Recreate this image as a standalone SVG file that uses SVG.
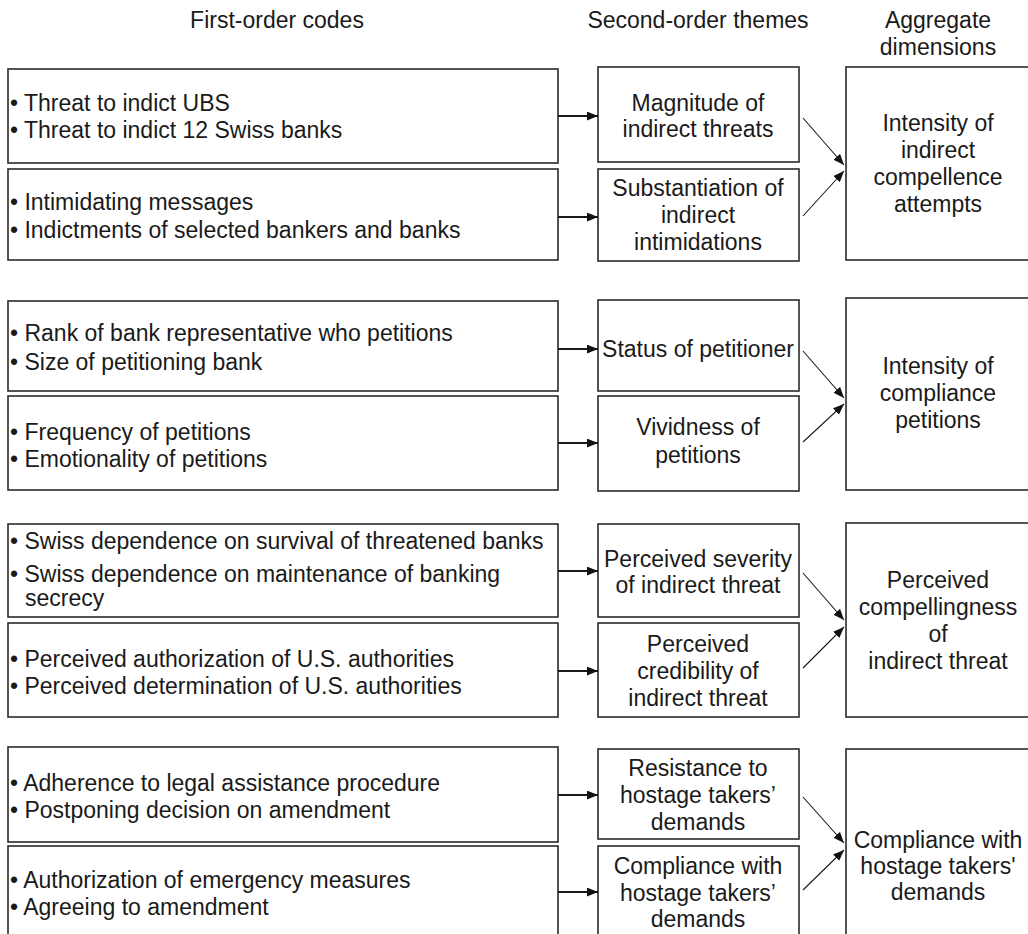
<svg xmlns="http://www.w3.org/2000/svg" width="1028" height="934" viewBox="0 0 1028 934">
<defs>
<marker id="ah" viewBox="0 0 10 8" refX="10" refY="4" markerWidth="11" markerHeight="9" markerUnits="userSpaceOnUse" orient="auto">
<path d="M0,0 L10,4 L0,8 Z" fill="#111"/>
</marker>
<style>
.box{fill:#fff;stroke:#2a2a2a;stroke-width:1.6}
text{font-family:"Liberation Sans",Arial,sans-serif;font-size:23px;fill:#1a1a1a}
.c{text-anchor:middle}
.h{stroke:#1a1a1a;stroke-width:1.8;fill:none}
.d{stroke:#1a1a1a;stroke-width:1.1;fill:none}
</style>
</defs>
<rect width="1028" height="934" fill="#fff"/>
<g id="headers">
<text class="c" x="277" y="28">First-order codes</text>
<text class="c" x="698" y="28">Second-order themes</text>
<text class="c" x="938" y="28">Aggregate</text>
<text class="c" x="938" y="55">dimensions</text>
</g>

<!-- Group 1 -->
<g id="g1-code1"><rect class="box" x="8" y="69" width="550" height="94"/>
<text x="10" y="111">• Threat to indict UBS</text>
<text x="10" y="138">• Threat to indict 12 Swiss banks</text></g>
<g id="g1-code2"><rect class="box" x="8" y="169" width="550" height="91"/>
<text x="10" y="210">• Intimidating messages</text>
<text x="10" y="238">• Indictments of selected bankers and banks</text></g>
<g id="g1-theme1"><rect class="box" x="598" y="67" width="201" height="95"/>
<text class="c" x="698" y="111">Magnitude of</text>
<text class="c" x="698" y="137">indirect threats</text></g>
<g id="g1-theme2"><rect class="box" x="598" y="169" width="201" height="92"/>
<text class="c" x="698" y="196">Substantiation of</text>
<text class="c" x="698" y="223">indirect</text>
<text class="c" x="698" y="250">intimidations</text></g>
<g id="g1-dim"><rect class="box" x="846" y="67" width="200" height="193"/>
<text class="c" x="938" y="131">Intensity of</text>
<text class="c" x="938" y="158">indirect</text>
<text class="c" x="938" y="185">compellence</text>
<text class="c" x="938" y="212">attempts</text></g>

<!-- Group 2 -->
<g id="g2-code1"><rect class="box" x="8" y="301" width="550" height="90"/>
<text x="10" y="341">• Rank of bank representative who petitions</text>
<text x="10" y="370">• Size of petitioning bank</text></g>
<g id="g2-code2"><rect class="box" x="8" y="396" width="550" height="94"/>
<text x="10" y="440">• Frequency of petitions</text>
<text x="10" y="467">• Emotionality of petitions</text></g>
<g id="g2-theme1"><rect class="box" x="598" y="300" width="201" height="91"/>
<text class="c" x="698" y="357">Status of petitioner</text></g>
<g id="g2-theme2"><rect class="box" x="598" y="396" width="201" height="95"/>
<text class="c" x="698" y="435">Vividness of</text>
<text class="c" x="698" y="463">petitions</text></g>
<g id="g2-dim"><rect class="box" x="846" y="298" width="200" height="192"/>
<text class="c" x="938" y="374">Intensity of</text>
<text class="c" x="938" y="401">compliance</text>
<text class="c" x="938" y="428">petitions</text></g>

<!-- Group 3 -->
<g id="g3-code1"><rect class="box" x="8" y="524" width="550" height="93"/>
<text x="10" y="549">• Swiss dependence on survival of threatened banks</text>
<text x="10" y="582">• Swiss dependence on maintenance of banking</text>
<text x="25" y="606">secrecy</text></g>
<g id="g3-code2"><rect class="box" x="8" y="623" width="550" height="94"/>
<text x="10" y="667">• Perceived authorization of U.S. authorities</text>
<text x="10" y="694">• Perceived determination of U.S. authorities</text></g>
<g id="g3-theme1"><rect class="box" x="598" y="524" width="201" height="93"/>
<text class="c" x="698" y="567">Perceived severity</text>
<text class="c" x="698" y="593">of indirect threat</text></g>
<g id="g3-theme2"><rect class="box" x="598" y="623" width="201" height="94"/>
<text class="c" x="698" y="652">Perceived</text>
<text class="c" x="698" y="679">credibility of</text>
<text class="c" x="698" y="706">indirect threat</text></g>
<g id="g3-dim"><rect class="box" x="846" y="523" width="200" height="194"/>
<text class="c" x="938" y="588">Perceived</text>
<text class="c" x="938" y="615">compellingness</text>
<text class="c" x="938" y="642">of</text>
<text class="c" x="938" y="669">indirect threat</text></g>

<!-- Group 4 -->
<g id="g4-code1"><rect class="box" x="8" y="747" width="550" height="95"/>
<text x="10" y="791">• Adherence to legal assistance procedure</text>
<text x="10" y="818">• Postponing decision on amendment</text></g>
<g id="g4-code2"><rect class="box" x="8" y="846" width="550" height="100"/>
<text x="10" y="888">• Authorization of emergency measures</text>
<text x="10" y="915">• Agreeing to amendment</text></g>
<g id="g4-theme1"><rect class="box" x="598" y="749" width="201" height="90"/>
<text class="c" x="698" y="776">Resistance to</text>
<text class="c" x="698" y="803">hostage takers’</text>
<text class="c" x="698" y="830">demands</text></g>
<g id="g4-theme2"><rect class="box" x="598" y="846" width="201" height="100"/>
<text class="c" x="698" y="874">Compliance with</text>
<text class="c" x="698" y="901">hostage takers’</text>
<text class="c" x="698" y="927">demands</text></g>
<g id="g4-dim"><rect class="box" x="846" y="749" width="200" height="197"/>
<text class="c" x="938" y="848">Compliance with</text>
<text class="c" x="938" y="874">hostage takers'</text>
<text class="c" x="938" y="900">demands</text></g>

<g id="connectors">
<line class="h" x1="558" y1="116" x2="598" y2="116" marker-end="url(#ah)"/>
<line class="h" x1="558" y1="217" x2="598" y2="217" marker-end="url(#ah)"/>
<line class="d" x1="803" y1="118" x2="844" y2="165" marker-end="url(#ah)"/>
<line class="d" x1="803" y1="216" x2="844" y2="171" marker-end="url(#ah)"/>

<line class="h" x1="558" y1="349" x2="598" y2="349" marker-end="url(#ah)"/>
<line class="h" x1="558" y1="443" x2="598" y2="443" marker-end="url(#ah)"/>
<line class="d" x1="803" y1="351" x2="844" y2="398" marker-end="url(#ah)"/>
<line class="d" x1="803" y1="442" x2="844" y2="404" marker-end="url(#ah)"/>

<line class="h" x1="558" y1="571" x2="598" y2="571" marker-end="url(#ah)"/>
<line class="h" x1="558" y1="671" x2="598" y2="671" marker-end="url(#ah)"/>
<line class="d" x1="803" y1="573" x2="844" y2="620" marker-end="url(#ah)"/>
<line class="d" x1="803" y1="668" x2="844" y2="627" marker-end="url(#ah)"/>

<line class="h" x1="558" y1="795" x2="598" y2="795" marker-end="url(#ah)"/>
<line class="h" x1="558" y1="892" x2="598" y2="892" marker-end="url(#ah)"/>
<line class="d" x1="803" y1="797" x2="844" y2="843" marker-end="url(#ah)"/>
<line class="d" x1="803" y1="890" x2="844" y2="850" marker-end="url(#ah)"/>
</g>
</svg>
